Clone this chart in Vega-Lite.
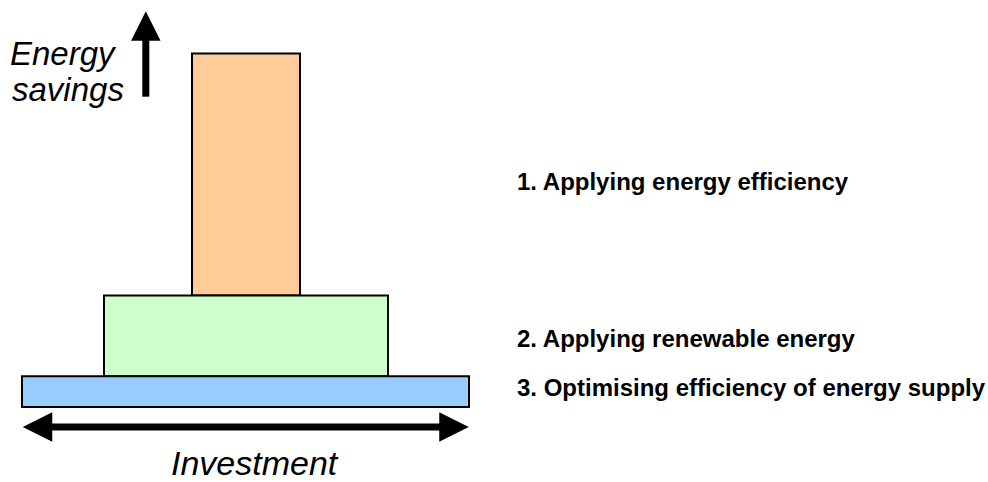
{
  "$schema": "https://vega.github.io/schema/vega-lite/v6.json",
  "width": 988,
  "height": 482,
  "padding": 0,
  "autosize": {"type": "fit", "contains": "padding"},
  "background": "white",
  "config": {"view": {"stroke": null}},
  "datasets": {
    "blocks": [
      {"step": "1", "x0": 192, "x1": 300, "y0": 54, "y1": 298},
      {"step": "2", "x0": 104, "x1": 388, "y0": 298, "y1": 379.5},
      {"step": "3", "x0": 22, "x1": 469, "y0": 379.5, "y1": 410.5}
    ],
    "shafts": [
      {"name": "savings", "x0": 145.8, "x1": 145.8, "y0": 39, "y1": 97.5},
      {"name": "investment", "x0": 50, "x1": 442, "y0": 430.5, "y1": 430.5}
    ],
    "heads": [
      {"dir": "up", "x": 145.8, "y": 26.2},
      {"dir": "left", "x": 37.5, "y": 430.5},
      {"dir": "right", "x": 454, "y": 430.5}
    ],
    "axisLabels": [
      {"label": "Energy", "x": 10, "y": 66, "size": "s"},
      {"label": "savings", "x": 12, "y": 102, "size": "s"},
      {"label": "Investment", "x": 171, "y": 479, "size": "l"}
    ],
    "steps": [
      {"label": "1. Applying energy efficiency", "x": 517, "y": 192},
      {"label": "2. Applying renewable energy", "x": 517, "y": 350},
      {"label": "3. Optimising efficiency of energy supply", "x": 517, "y": 399}
    ]
  },
  "layer": [
    {
      "data": {"name": "blocks"},
      "mark": {"type": "rect", "stroke": "black", "strokeWidth": 2},
      "encoding": {
        "x": {"field": "x0", "type": "quantitative", "scale": {"domain": [0, 988], "nice": false, "zero": false}, "axis": null},
        "x2": {"field": "x1"},
        "y": {"field": "y0", "type": "quantitative", "scale": {"domain": [0, 482], "nice": false, "zero": false, "reverse": true}, "axis": null},
        "y2": {"field": "y1"},
        "fill": {"field": "step", "type": "nominal", "scale": {"domain": ["1", "2", "3"], "range": ["#FFCC99", "#CCFFCC", "#99CCFF"]}, "legend": null}
      }
    },
    {
      "data": {"name": "shafts"},
      "mark": {"type": "rule", "color": "black", "strokeWidth": 7, "strokeCap": "butt"},
      "encoding": {
        "x": {"field": "x0", "type": "quantitative"},
        "x2": {"field": "x1"},
        "y": {"field": "y0", "type": "quantitative"},
        "y2": {"field": "y1"}
      }
    },
    {
      "data": {"name": "heads"},
      "mark": {"type": "point", "filled": true, "color": "black", "opacity": 1, "size": 870, "strokeWidth": 0},
      "encoding": {
        "x": {"field": "x", "type": "quantitative"},
        "y": {"field": "y", "type": "quantitative"},
        "shape": {"field": "dir", "type": "nominal", "scale": {"domain": ["up", "left", "right"], "range": ["M0,-1L1,1L-1,1Z", "M-1,0L1,-1L1,1Z", "M1,0L-1,-1L-1,1Z"]}, "legend": null}
      }
    },
    {
      "data": {"name": "axisLabels"},
      "mark": {"type": "text", "font": "Liberation Sans", "fontStyle": "italic", "align": "left", "baseline": "alphabetic", "color": "black"},
      "encoding": {
        "x": {"field": "x", "type": "quantitative"},
        "y": {"field": "y", "type": "quantitative"},
        "text": {"field": "label"},
        "size": {"field": "size", "type": "nominal", "scale": {"domain": ["s", "l"], "range": [33, 34]}, "legend": null}
      }
    },
    {
      "data": {"name": "steps"},
      "mark": {"type": "text", "font": "Liberation Sans", "fontWeight": "bold", "fontSize": 24, "align": "left", "baseline": "alphabetic", "color": "black"},
      "encoding": {
        "x": {"field": "x", "type": "quantitative"},
        "y": {"field": "y", "type": "quantitative"},
        "text": {"field": "label"}
      }
    }
  ]
}
